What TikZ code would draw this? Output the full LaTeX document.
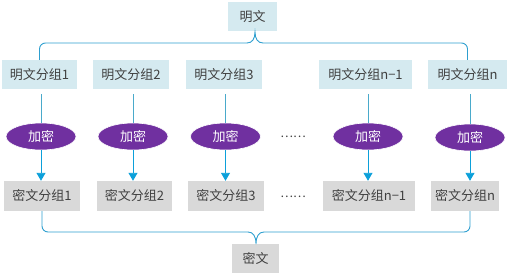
\documentclass[tikz,border=0pt]{standalone}
\usepackage{fontspec}
\setmainfont{Noto Sans CJK SC}
\usetikzlibrary{shapes.geometric,arrows.meta}
\definecolor{plainfill}{HTML}{D5EAF0}
\definecolor{cipherfill}{HTML}{D9D9D9}
\definecolor{encfill}{HTML}{7030A0}
\definecolor{txtgray}{HTML}{404040}
\definecolor{linkblue}{HTML}{4AAACB}
\definecolor{arrowblue}{HTML}{0CA0DA}
\definecolor{bracecol}{HTML}{2E9FCF}
\tikzset{
  plainbox/.style={rectangle,fill=plainfill,minimum height=29pt,inner sep=0pt,text=txtgray,font=\fontsize{13}{15}\selectfont},
  cipherbox/.style={rectangle,fill=cipherfill,minimum height=30pt,inner sep=0pt,text=txtgray,font=\fontsize{13}{15}\selectfont},
  encnode/.style={ellipse,fill=encfill,draw=white,line width=0.6pt,minimum width=70pt,minimum height=27pt,inner sep=0pt,text=white,font=\fontsize{13}{15}\selectfont},
  linkline/.style={draw=linkblue,line width=0.9pt},
  arrowline/.style={draw=arrowblue,line width=0.9pt,-{Triangle[width=9pt,length=8pt]}},
  braceline/.style={draw=bracecol,line width=0.9pt},
  dotsnode/.style={text=txtgray,font=\fontsize{12}{14}\selectfont,inner sep=0pt}
}
\begin{document}
\begin{tikzpicture}[x=1pt,y=-1pt]
\useasboundingbox (0,0) rectangle (510,276);
% top
\node[plainbox,minimum width=49pt] (top) at (252.5,16.5) {明文};
\node[plainbox,minimum width=75pt] (p1) at (39.5,74.5) {明文分组1};
\node[plainbox,minimum width=76pt] (p2) at (131,74.5) {明文分组2};
\node[plainbox,minimum width=76pt] (p3) at (224,74.5) {明文分组3};
\node[plainbox,minimum width=93pt] (p4) at (365.5,74.5) {明文分组n−1};
\node[plainbox,minimum width=79pt] (p5) at (467.5,74.5) {明文分组n};
% encryption
\node[encnode] (e1) at (41,136.5) {加密};
\node[encnode] (e2) at (133,136.5) {加密};
\node[encnode] (e3) at (225.5,136.5) {加密};
\node[encnode] (e4) at (368,136.5) {加密};
\node[encnode] (e5) at (470,137.5) {加密};
% cipher blocks
\node[cipherbox,minimum width=76pt] (c1) at (42,196) {密文分组1};
\node[cipherbox,minimum width=75pt] (c2) at (134.5,196) {密文分组2};
\node[cipherbox,minimum width=76pt] (c3) at (226,196) {密文分组3};
\node[cipherbox,minimum width=92pt] (c4) at (369,196) {密文分组n−1};
\node[cipherbox,minimum width=68pt] (c5) at (465,196) {密文分组n};
\node[cipherbox,minimum width=47pt,minimum height=29pt] (bot) at (255.5,258.5) {密文};
% dots
\node[dotsnode] (d1) at (293,137) {……};
\node[dotsnode] (d2) at (293,197) {……};
% links box -> ellipse
\foreach \i in {1,...,5}{
  \draw[linkline,shorten <=5pt] (e\i.north |- p\i.south) -- (e\i.north);
  \draw[arrowline] (e\i.south) -- (e\i.south |- c\i.north);
}
% top brace
\coordinate (tl) at (p1.north);
\coordinate (tr) at (p5.north);
\draw[braceline,rounded corners=6pt] (tl) -- (39.5,43) -- (247,43);
\draw[braceline] (247,43) .. controls (252,43) and (255,39) .. (255,32)
  .. controls (255,39) and (258,43) .. (263,43);
\draw[braceline,rounded corners=6pt] (263,43) -- (467.5,43) -- (tr);
% bottom brace
\coordinate (bl) at (42,211);
\coordinate (br) at (470,211);
\draw[braceline,rounded corners=6pt] (bl) -- (42,232) -- (248,232);
\draw[braceline] (248,232) .. controls (253,232) and (256,236) .. (256,244)
  .. controls (256,236) and (259,232) .. (264,232);
\draw[braceline,rounded corners=6pt] (264,232) -- (470,232) -- (br);
\end{tikzpicture}
\end{document}
